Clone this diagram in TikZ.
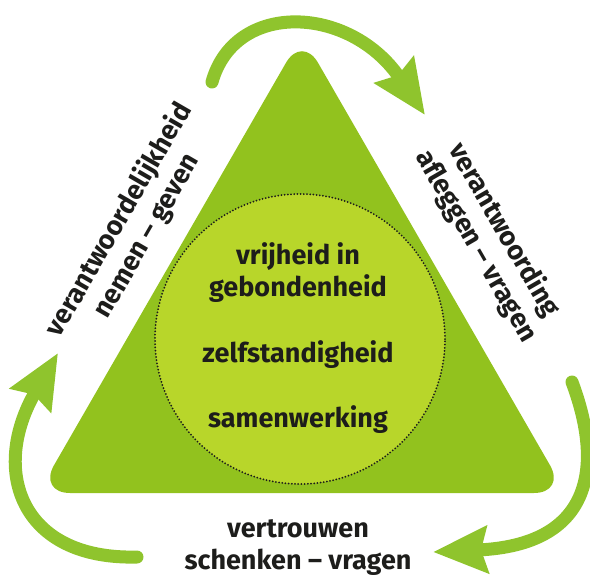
\documentclass[tikz,border=0pt]{standalone}
\usepackage{fontspec}
\setmainfont{Fira Sans}
\usetikzlibrary{arrows.meta}
\usetikzlibrary{positioning}
\definecolor{groen}{RGB}{146,194,30}
\definecolor{lichtgroen}{RGB}{184,214,42}
\definecolor{pijlgroen}{RGB}{143,196,45}
\definecolor{tekstkleur}{RGB}{29,29,27}
\tikzset{
  pijl/.style={
    draw=pijlgroen, line width=13pt, line cap=round,
    -{Stealth[length=54pt, width=46pt, inset=6pt]}
  }
}

\begin{document}
\begin{tikzpicture}[x=1pt, y=-1pt] % Stijlen
\tikzstyle{tekst} = [text=tekstkleur, font=\bfseries\fontsize{27}{32}\selectfont, align=center, inner sep=0pt]
\tikzstyle{kern} = [circle, minimum size=290pt, inner sep=0pt, fill=lichtgroen, draw=tekstkleur, line width=2pt, line cap=round, dash pattern=on 0pt off 3.2pt]
\useasboundingbox (0,0) rectangle (590,579);
% Driehoek
\coordinate (top) at (302,35); \coordinate (linksonder) at (38,493); \coordinate (rechtsonder) at (566,493);
\fill[groen, rounded corners=32pt] (top) -- (linksonder) -- (rechtsonder) -- cycle;
% Cirkel met kernwaarden
\node (kern) [kern] at (300,339) {};
\node (vrijheid) [tekst] at (298,273) {vrijheid in\\gebondenheid};
\node (zelfstandig) [tekst] at (298,355) {zelfstandigheid};
\node (samen) [tekst] at (298,420) {samenwerking};
% Teksten langs de zijden
\node (links) [tekst, rotate=60] at (133,228) {verantwoordelijkheid\\nemen – geven};
\node (rechts) [tekst, rotate=-60] at (490,238) {verantwoording\\afleggen – vragen};
\node (onder) [tekst] at (298,548) {vertrouwen\\schenken – vragen};
% Pijlen rondom
\coordinate (s1) at (212,82);  \coordinate (c1) at (235,0);   \coordinate (d1) at (350,5);   \coordinate (e1) at (425,115);
\coordinate (s2) at (572,382); \coordinate (c2) at (605,470); \coordinate (d2) at (590,545); \coordinate (e2) at (433,552);
\coordinate (s3) at (137,557); \coordinate (c3) at (20,560);  \coordinate (d3) at (-10,470); \coordinate (e3) at (58,353);
\foreach \i in {1,2,3}{ \draw[pijl] (s\i) .. controls (c\i) and (d\i) .. (e\i); }
\end{tikzpicture}
\end{document}
